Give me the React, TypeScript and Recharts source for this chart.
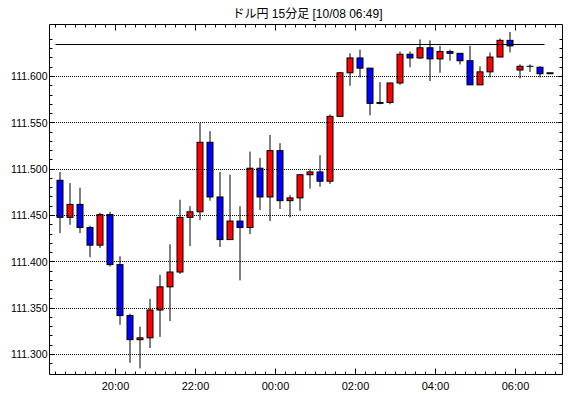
import React from 'react';
import { ComposedChart, Bar, XAxis, YAxis, ReferenceLine, ReferenceArea } from 'recharts';

// 15分足 18:30 〜 06:45 (50本)
const opens = [
  111.488, 111.448, 111.462, 111.437, 111.418, 111.451, 111.397, 111.342, 111.316, 111.318,
  111.348, 111.373, 111.389, 111.448, 111.454, 111.529, 111.470, 111.424, 111.444, 111.437,
  111.501, 111.470, 111.520, 111.466, 111.469, 111.494, 111.497, 111.487, 111.557, 111.604,
  111.620, 111.609, 111.571, 111.572, 111.593, 111.624, 111.620, 111.631, 111.619, 111.627,
  111.625, 111.617, 111.591, 111.605, 111.621, 111.639, 111.607, 111.611, 111.610, 111.603,
];
const highs = [
  111.497, 111.485, 111.480, 111.439, 111.453, 111.454, 111.406, 111.344, 111.330, 111.360,
  111.386, 111.419, 111.467, 111.460, 111.550, 111.541, 111.497, 111.494, 111.460, 111.519,
  111.512, 111.537, 111.528, 111.472, 111.494, 111.500, 111.515, 111.559, 111.605, 111.625,
  111.629, 111.609, 111.594, 111.593, 111.627, 111.627, 111.640, 111.639, 111.633, 111.629,
  111.625, 111.633, 111.611, 111.626, 111.641, 111.648, 111.613, 111.613, 111.611, 111.604,
];
const lows = [
  111.431, 111.440, 111.431, 111.405, 111.415, 111.395, 111.332, 111.291, 111.285, 111.307,
  111.319, 111.336, 111.387, 111.417, 111.445, 111.466, 111.416, 111.424, 111.380, 111.430,
  111.456, 111.444, 111.457, 111.448, 111.455, 111.479, 111.481, 111.484, 111.557, 111.590,
  111.599, 111.558, 111.570, 111.570, 111.591, 111.610, 111.619, 111.595, 111.604, 111.617,
  111.613, 111.591, 111.591, 111.599, 111.621, 111.626, 111.598, 111.605, 111.599, 111.603,
];
const closes = [
  111.448, 111.462, 111.437, 111.418, 111.451, 111.397, 111.342, 111.316, 111.318, 111.348,
  111.373, 111.389, 111.448, 111.454, 111.529, 111.470, 111.424, 111.444, 111.437, 111.501,
  111.470, 111.520, 111.466, 111.469, 111.494, 111.497, 111.487, 111.557, 111.604, 111.620,
  111.609, 111.571, 111.572, 111.593, 111.624, 111.620, 111.631, 111.619, 111.627, 111.625,
  111.617, 111.591, 111.605, 111.621, 111.639, 111.633, 111.611, 111.611, 111.603, 111.604,
];

const xLabelPos = [5.5, 13.5, 21.5, 29.5, 37.5, 45.5];
const xLabels = ['20:00', '22:00', '00:00', '02:00', '04:00', '06:00'];
const yLabels = [111.3, 111.35, 111.4, 111.45, 111.5, 111.55, 111.6];
const highLine = 111.6345;

const data = opens.map((o, i) => ({ i, open: o, high: highs[i], low: lows[i], close: closes[i] }));

// 目盛り (15分ごと / 0.01ごと)
const xTicks = Array.from({ length: 51 }, (_, k) => k - 0.5);
const yTicks = Array.from({ length: 36 }, (_, k) => Math.round((111.29 + k * 0.01) * 1000) / 1000);

const X_MIN = -1.1;
const X_MAX = 50.2;
const Y_MIN = 111.27842;
const Y_MAX = 111.65611;

const PLOT_LEFT = 49.5;
const PLOT_RIGHT = 562.5;
const PLOT_TOP = 24.5;
const PLOT_BOTTOM = 374.5;

const FONT = '"Liberation Sans", "Noto Sans CJK JP", sans-serif';

const Candle = (props: any) => {
  const { x, y, width, height, payload } = props;
  const top = Math.min(y, y + height);
  const h = Math.abs(height);
  const { open, close, high, low } = payload;
  const ppu = h / (high - low);
  const py = (v: number) => top + (high - v) * ppu;
  const cx = x + width / 2;
  const yo = py(open);
  const yc = py(close);
  const bt = Math.min(yo, yc);
  const bh = Math.abs(yo - yc);
  const color = close >= open ? '#ff0000' : '#0000ff';
  return (
    <g>
      <line x1={cx} x2={cx} y1={top} y2={top + h} stroke="#000" strokeWidth={1} />
      {bh < 0.5 ? (
        <line x1={cx - 3.5} x2={cx + 3.5} y1={bt} y2={bt} stroke="#000" strokeWidth={1} />
      ) : (
        <rect x={cx - 3} y={bt} width={6} height={bh} fill={color} stroke="#000" strokeWidth={1} />
      )}
    </g>
  );
};

const XTick = (props: any) => {
  const { x, payload } = props;
  const k = xLabelPos.indexOf(payload.value);
  const len = k >= 0 ? 6 : 3;
  return (
    <g>
      <line x1={x} x2={x} y1={PLOT_BOTTOM} y2={PLOT_BOTTOM - len} stroke="#000" />
      <line x1={x} x2={x} y1={PLOT_TOP} y2={PLOT_TOP + len} stroke="#000" />
      {k >= 0 && (
        <text x={x} y={PLOT_BOTTOM + 15} textAnchor="middle" fontSize={11} fontFamily={FONT} fill="#000">
          {xLabels[k]}
        </text>
      )}
    </g>
  );
};

const YTick = (props: any) => {
  const { y, payload } = props;
  const v = payload.value;
  const major = Math.round(v * 1000) % 50 === 0;
  const len = major ? 5 : 3;
  const yy = Math.floor(y) + 0.5;
  return (
    <g>
      <line x1={PLOT_LEFT} x2={PLOT_LEFT + len} y1={yy} y2={yy} stroke="#000" />
      <line x1={PLOT_RIGHT} x2={PLOT_RIGHT - len} y1={yy} y2={yy} stroke="#000" />
      {major && (
        <text x={PLOT_LEFT - 2} y={y} dy="0.35em" textAnchor="end" fontSize={10.5} fontFamily={FONT} fill="#000">
          {v.toFixed(3)}
        </text>
      )}
    </g>
  );
};

export default function App() {
  return (
    <div style={{ position: 'absolute', left: 0, top: 0, width: 570, height: 398, background: '#fff' }}>
      <div
        style={{
          position: 'absolute',
          left: 45,
          top: 7,
          width: 525,
          textAlign: 'center',
          fontFamily: FONT,
          fontSize: 12,
          lineHeight: '14px',
          color: '#000',
        }}
      >
        ドル円 15分足 [10/08 06:49]
      </div>
      <ComposedChart
        width={570}
        height={398}
        data={data}
        margin={{ top: PLOT_TOP, right: 570 - PLOT_RIGHT, bottom: 0, left: 0 }}
      >
        {yLabels.map((v) => (
          <ReferenceLine
            key={v}
            y={v}
            stroke="#000"
            strokeDasharray="1 1"
            shapeRendering="crispEdges"
            ifOverflow="visible"
          />
        ))}
        <XAxis
          dataKey="i"
          type="number"
          domain={[X_MIN, X_MAX]}
          ticks={xTicks}
          interval={0}
          height={398 - PLOT_BOTTOM}
          tickLine={false}
          axisLine={false}
          tick={<XTick />}
          allowDataOverflow
        />
        <YAxis
          type="number"
          domain={[Y_MIN, Y_MAX]}
          ticks={yTicks}
          interval={0}
          width={PLOT_LEFT}
          tickLine={false}
          axisLine={false}
          tick={<YTick />}
          allowDataOverflow
        />
        <ReferenceLine
          segment={[{ x: -0.5, y: highLine }, { x: 48.4, y: highLine }]}
          stroke="#000"
          strokeWidth={1}
          ifOverflow="visible"
        />
        <Bar
          dataKey={(d: any) => [d.low, d.high]}
          barSize={7}
          shape={<Candle />}
          isAnimationActive={false}
        />
        <ReferenceArea
          x1={X_MIN}
          x2={X_MAX}
          y1={Y_MIN}
          y2={Y_MAX}
          fill="none"
          stroke="#000"
          strokeWidth={1}
          ifOverflow="visible"
        />
      </ComposedChart>
    </div>
  );
}
